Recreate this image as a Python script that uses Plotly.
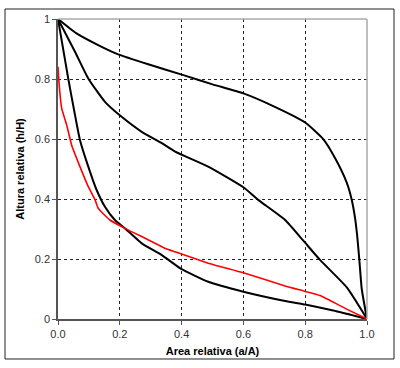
import plotly.graph_objects as go

# Curve 1 (upper, convex)
c1_x = [0.0, 0.06, 0.13, 0.195, 0.292, 0.406, 0.5, 0.6, 0.7, 0.8, 0.859, 0.9, 0.935, 0.95, 0.961, 0.968, 0.975, 0.983, 1.0]
c1_y = [1.0, 0.952, 0.913, 0.882, 0.849, 0.813, 0.782, 0.752, 0.708, 0.655, 0.599, 0.53, 0.453, 0.40, 0.339, 0.28, 0.2, 0.1, 0.0]

# Curve 2 (middle, S-shaped)
c2_x = [0.0, 0.055, 0.098, 0.152, 0.206, 0.271, 0.336, 0.379, 0.486, 0.6, 0.648, 0.735, 0.794, 0.848, 0.934, 1.0]
c2_y = [1.0, 0.891, 0.802, 0.724, 0.674, 0.624, 0.586, 0.558, 0.508, 0.439, 0.397, 0.33, 0.261, 0.197, 0.106, 0.0]

# Curve 3 (lower, concave)
c3_x = [0.0, 0.033, 0.055, 0.071, 0.098, 0.125, 0.152, 0.184, 0.217, 0.271, 0.336, 0.4, 0.486, 0.6, 0.735, 0.8, 0.891, 1.0]
c3_y = [1.0, 0.802, 0.68, 0.597, 0.508, 0.43, 0.374, 0.33, 0.302, 0.252, 0.213, 0.166, 0.124, 0.091, 0.06, 0.048, 0.028, 0.0]

# Red curve
r_x = [0.0, 0.003, 0.012, 0.028, 0.044, 0.071, 0.098, 0.12, 0.13, 0.168, 0.217, 0.282, 0.346, 0.379, 0.486, 0.6, 0.735, 0.8, 0.848, 0.934, 1.0]
r_y = [0.841, 0.791, 0.702, 0.647, 0.58, 0.508, 0.441, 0.397, 0.369, 0.33, 0.302, 0.269, 0.236, 0.224, 0.186, 0.154, 0.11, 0.092, 0.078, 0.033, 0.0]

x_ticks = [0, 0.2, 0.4, 0.6, 0.8, 1.0]
x_tick_labels = ["0.0", "0.2", "0.4", "0.6", "0.8", "1.0"]
y_ticks = [0, 0.2, 0.4, 0.6, 0.8, 1.0]
y_tick_labels = ["0", "0.2", "0.4", "0.6", "0.8", "1"]

fig = go.Figure()
for xs, ys in [(c1_x, c1_y), (c2_x, c2_y), (c3_x, c3_y)]:
    fig.add_trace(go.Scatter(x=xs, y=ys, mode="lines",
                             line=dict(color="#000000", width=2, shape="spline", smoothing=0.5),
                             showlegend=False, hoverinfo="skip"))
fig.add_trace(go.Scatter(x=r_x, y=r_y, mode="lines",
                         line=dict(color="#ff0000", width=1.6, shape="spline", smoothing=0.4),
                         showlegend=False, hoverinfo="skip"))

axis_font = dict(family="Liberation Sans, Arial, sans-serif", size=11, color="#333333")
title_font = dict(family="Liberation Sans, Arial, sans-serif", size=11, color="#000000")

fig.update_layout(
    width=400, height=368,
    margin=dict(l=58, r=33, t=19, b=49, autoexpand=False),
    paper_bgcolor="white", plot_bgcolor="white",
    xaxis=dict(range=[0, 1], tickvals=x_ticks, ticktext=x_tick_labels,
               showline=True, linecolor="#555555", linewidth=1.5,
               ticks="outside", ticklen=4, tickcolor="#555555",
               showgrid=True, gridcolor="#222222", gridwidth=1, griddash="3px,3px",
               zeroline=False, tickfont=axis_font, automargin=False,
               title=dict(text="<b>Area relativa (a/A)</b>", font=title_font, standoff=8),
               fixedrange=True),
    yaxis=dict(range=[0, 1], tickvals=y_ticks, ticktext=y_tick_labels,
               showline=True, linecolor="#555555", linewidth=1.5,
               ticks="outside", ticklen=4, tickcolor="#555555",
               showgrid=True, gridcolor="#222222", gridwidth=1, griddash="3px,3px",
               zeroline=False, tickfont=axis_font, automargin=False,
               title=dict(text="<b>Altura relativa (h/H)</b>", font=title_font, standoff=8),
               fixedrange=True),
    shapes=[
        dict(type="line", xref="paper", yref="paper", x0=0, x1=1, y0=1, y1=1,
             line=dict(color="#aaaaaa", width=1.5)),
        dict(type="line", xref="paper", yref="paper", x0=1, x1=1, y0=0, y1=1,
             line=dict(color="#aaaaaa", width=1.5)),
        dict(type="rect", xref="paper", yref="paper", x0=-0.1715, x1=1.0874,
             y0=-0.1333, y1=1.0333, line=dict(color="#222222", width=1)),
    ],
)

fig.write_html("out.html", config={"displayModeBar": False},
               post_script="document.body.style.margin='0';")
